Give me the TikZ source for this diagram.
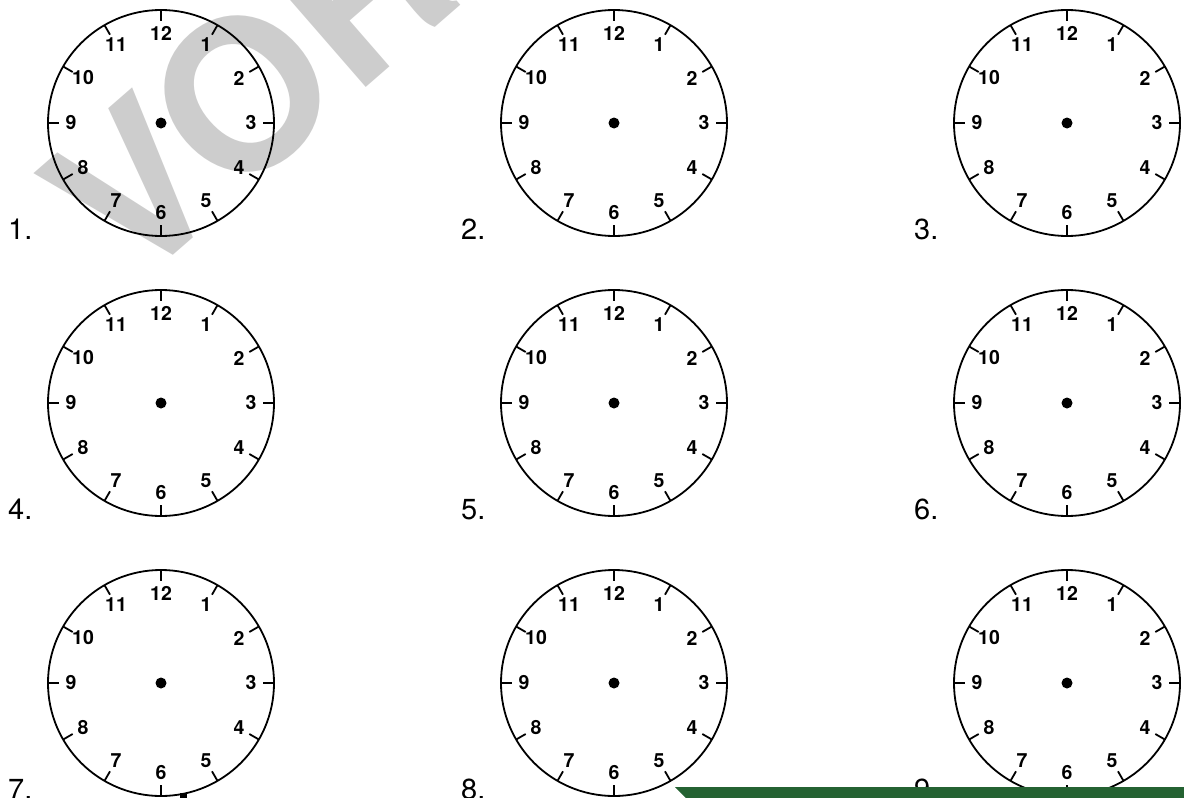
\documentclass[tikz,border=0pt]{standalone}
\usepackage{fontspec}
\setmainfont{TeX Gyre Heros}
\usetikzlibrary{positioning,calc}
\definecolor{markgray}{RGB}{205,205,205}
\definecolor{bannergreen}{RGB}{36,98,50}

\begin{document}
\begin{tikzpicture}[x=1pt,y=1pt,
 face/.style={draw=black,line width=1.8pt},
 hourtick/.style={line width=1.8pt},
 hournum/.style={font=\fontsize{19.5}{19.5}\selectfont\bfseries,inner sep=0pt},
 clocklabel/.style={font=\fontsize{29}{29}\selectfont,anchor=base west,inner sep=0pt}]
\useasboundingbox (0,0) rectangle (1184,-798);
\clip (0,0) rectangle (1184,-798);
% watermark behind the clocks
\node[rotate=41,anchor=base west,inner sep=0pt,text=markgray,
 font=\fontsize{210}{210}\selectfont\bfseries] (mark) at (130,-293) {VORSCHAU};
% nine clock faces
\foreach \n/\cx/\cy in {1/161/123,2/614/123,3/1067/123,4/161/403,5/614/403,
 6/1067/403,7/161/683,8/614/683,9/1067/683}{
 \coordinate (c\n) at (\cx,-\cy);
 \draw[face] (c\n) circle[radius=113];
 \fill (c\n) circle[radius=5.5];
 \foreach \h in {1,...,12}{
  \draw[hourtick] ($(c\n)+(90-30*\h:113)$) -- ($(c\n)+(90-30*\h:102)$);
  \node[hournum] (c\n-h\h) at ($(c\n)+(90-30*\h:90)$) {\h};
 }
 \node[clocklabel] (lab\n) at ($(c\n)+(-153,-116)$) {\n.};
}
% cut-off bits at the lower edge
\fill (180,-793) rectangle (187,-798);
\fill[bannergreen] (675,-787) -- (1184,-787) -- (1184,-798) -- (686,-798) -- cycle;
\end{tikzpicture}
\end{document}
